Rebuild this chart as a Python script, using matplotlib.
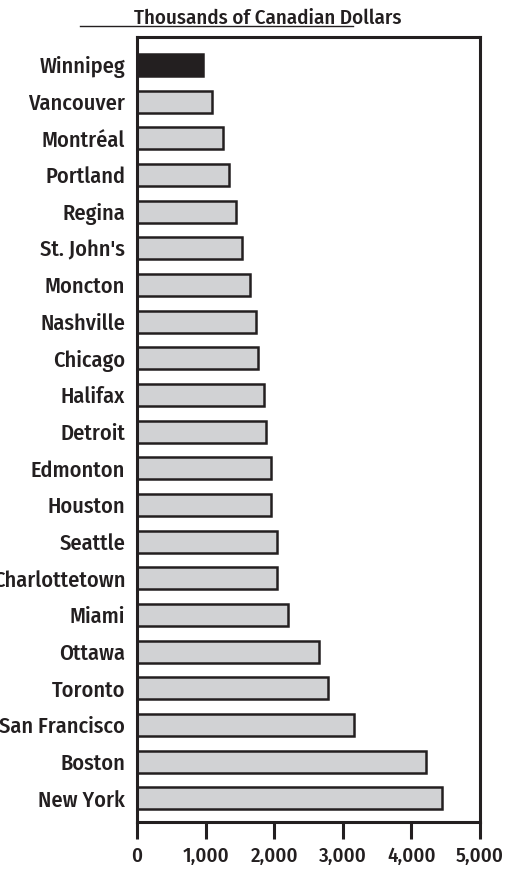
"""
Horizontal bar chart, thousands of Canadian dollars by city
"""

import numpy as np
import matplotlib.pyplot as plt
from matplotlib.lines import Line2D

cities = ["Winnipeg", "Vancouver", "Montréal", "Portland", "Regina", "St. John's",
          "Moncton", "Nashville", "Chicago", "Halifax", "Detroit", "Edmonton",
          "Houston", "Seattle", "Charlottetown", "Miami", "Ottawa", "Toronto",
          "San Francisco", "Boston", "New York"]
values = [960, 1100, 1260, 1340, 1450, 1530, 1650, 1730, 1760, 1850, 1880, 1950,
          1950, 2040, 2040, 2200, 2660, 2780, 3170, 4220, 4450]
xticks = [0, 1000, 2000, 3000, 4000, 5000]
xticklabels = ["0", "1,000", "2,000", "3,000", "4,000", "5,000"]

plt.rcParams['font.family'] = ['Fira Sans Condensed', 'Open Sans', 'DejaVu Sans']
plt.rcParams['font.weight'] = 500
dark = "#231f20"
grey = "#d1d2d4"

fig = plt.figure(figsize=(5.15, 8.72), dpi=100)
ax = fig.add_axes([0.266, 0.0573, 0.666, 0.9003])

ypos = np.arange(len(cities))
colors = [dark] + [grey] * (len(cities) - 1)
ax.barh(ypos, values, height=0.6, color=colors, edgecolor=dark, linewidth=1.8)

ax.set_xlim(0, 5000)
ax.set_ylim(len(cities) - 0.35, -0.76)
ax.set_yticks(ypos)
ax.set_yticklabels(cities, fontsize=16, color=dark)
ax.set_xticks(xticks)
ax.set_xticklabels(xticklabels, fontsize=15, color=dark)
ax.tick_params(axis="y", length=0, pad=8.5)
ax.tick_params(axis="x", length=12, width=2.2, color=dark, pad=6)
for s in ax.spines.values():
  s.set_linewidth(2.2)
  s.set_color(dark)

fig.text(0.519, 0.979, "Thousands of Canadian Dollars", ha="center", va="center",
         fontsize=15, color=dark)
fig.add_artist(Line2D([0.155, 0.685], [0.9705, 0.9705], color=dark, linewidth=1.0,
                      transform=fig.transFigure))

fig.savefig("out.png", dpi=100)
plt.close()
